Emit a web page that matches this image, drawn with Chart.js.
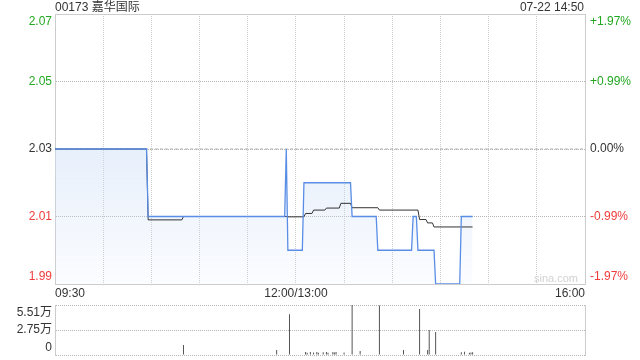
<!DOCTYPE html>
<html><head><meta charset="utf-8">
<script src="https://cdn.jsdelivr.net/npm/chart.js@4.4.0/dist/chart.umd.min.js"></script>
<style>
html,body{margin:0;padding:0;background:#fff;width:640px;height:360px;overflow:hidden;}
#wrap{position:relative;width:640px;height:360px;font-family:"Liberation Sans","Noto Sans CJK SC",sans-serif;}
#c1{position:absolute;left:0;top:0;width:640px;height:298px;}
#c2{position:absolute;left:0;top:298px;width:640px;height:62px;}
.t{position:absolute;font-size:12px;line-height:14px;color:#333;white-space:nowrap;}
</style></head><body>
<div id="wrap">
<canvas id="c1" width="640" height="298"></canvas>
<canvas id="c2" width="640" height="62"></canvas>
<div class="t" style="left:55px;top:0px">00173 嘉华国际</div>
<div class="t" style="right:56px;top:0px">07-22 14:50</div>
<div class="t" style="left:534px;top:271px;color:#d2d2d2;font-size:11px">sina.com</div>
</div>
<script>
// ---- data (minutes after 09:30, lunch break removed) ----
const prevClose = 2.03;
const priceMinutes = [0,57,58,143,144,145,154,155,184,185,200,201,222,223,225,226,236,237,252,253,260];
const priceValues  = [2.03,2.03,2.01,2.01,2.03,2.00,2.00,2.02,2.02,2.01,2.01,2.00,2.00,2.01,2.01,2.00,2.00,1.99,1.99,2.01,2.01];
const avgMinutes = [0,57,58,79,80,144,145,155,156,160,161,168,169,177,178,184,185,201,202,226,227,231,232,235,236,260];
const avgValues  = [2.03,2.03,2.009,2.009,2.01,2.01,2.0099,2.0099,2.0109,2.0109,2.0119,2.0119,2.0125,2.0125,2.0139,2.0139,2.0126,2.0126,2.0119,2.0119,2.0091,2.0091,2.0081,2.0081,2.0069,2.0069];
const volMinutes = [80,138,146,156,157,159,161,163,164,167,169,170,173,174,175,180,185,190,202,217,227,232,233,237,253,255,258,259,260];
const volValues  = [11000,5500,45000,3300,2500,3300,2800,3300,2500,3000,3300,2500,3300,2800,3300,2800,55100,4400,54500,5500,50700,5500,27500,25300,3000,3500,2500,2800,3000];
const priceTicks = [1.99,2.01,2.03,2.05,2.07];
const priceTickLabels = ['1.99','2.01','2.03','2.05','2.07'];
const pctTickLabels = ['-1.97%','-0.99%','0.00%','+0.99%','+1.97%'];
const xTickMinutes = [0,30,60,90,120,150,180,210,240,270,300,330];
const xTickLabels = ['09:30','','','','','12:00/13:00','','','','','','16:00'];
const volTicks = [0,27550,55100];
const volTickLabels = ['0','2.75万','5.51万'];

// ---- styles ----
const FONT = {family:'"Liberation Sans", Arial, "Noto Sans CJK SC", sans-serif', size:12};
const GREEN='#22a822', RED='#f03c3c', DARK='#333333';
const GRID='#cccccc', HGRID='#b4b4b4', BORDER='#cccccc', BLUE='#5a8ee6';
const tickColors = [RED,RED,DARK,GREEN,GREEN];
const edgeLabel = (arr)=>(v,i)=> i===0 ? [arr[i],''] : (i===arr.length-1 ? ['',arr[i]] : arr[i]);
const clear='rgba(0,0,0,0)';

function fillGrad(ctx){
  const ch = ctx.chart; const a = ch.chartArea;
  if(!a) return 'rgba(205,222,247,0.3)';
  const y = ch.scales.y;
  const g = ch.ctx.createLinearGradient(0, y.getPixelForValue(prevClose), 0, a.bottom);
  g.addColorStop(0,'rgba(205,222,247,0.48)');
  g.addColorStop(1,'rgba(205,222,247,0.08)');
  return g;
}

new Chart(document.getElementById('c1'), {
  type:'line',
  data:{datasets:[
    {data:priceMinutes.map((m,i)=>({x:m,y:priceValues[i]})), borderColor:BLUE, borderWidth:1.3, pointRadius:0, fill:'start', backgroundColor:fillGrad, tension:0},
    {data:avgMinutes.map((m,i)=>({x:m,y:avgValues[i]})), borderColor:'#333', borderWidth:1, pointRadius:0, fill:false, tension:0},
    {data:[{x:0,y:prevClose},{x:330,y:prevClose}], borderColor:'#b0b0b0', borderWidth:1, borderDash:[3,2], pointRadius:0, fill:false}
  ]},
  options:{
    responsive:false, animation:false, events:[],
    layout:{padding:{top:14,left:0,right:0,bottom:0}},
    plugins:{legend:{display:false}, tooltip:{enabled:false}, filler:{drawTime:'beforeDatasetsDraw'}},
    scales:{
      x:{type:'linear', position:'bottom', min:0, max:330,
        afterBuildTicks:s=>{s.ticks=xTickMinutes.map(v=>({value:v}));},
        ticks:{autoSkip:false, maxRotation:0, minRotation:0, align:'inner', padding:2, color:DARK, font:FONT, callback:(v,i)=>xTickLabels[i]},
        grid:{drawTicks:false, color:c=>(c.index===0||c.index===xTickMinutes.length-1)?clear:GRID},
        border:{color:BORDER, dash:[1,1]},
        afterFit:s=>{s.height=14; s.paddingLeft=0; s.paddingRight=0;}},
      x2:{type:'linear', position:'top', min:0, max:330,
        ticks:{display:false}, grid:{display:false, drawTicks:false}, border:{color:BORDER},
        afterFit:s=>{s.height=0; s.paddingLeft=0; s.paddingRight=0;}},
      y:{type:'linear', position:'left', min:1.99, max:2.07,
        afterBuildTicks:s=>{s.ticks=priceTicks.map(v=>({value:v}));},
        ticks:{autoSkip:false, padding:3, font:FONT, color:c=>tickColors[c.index], callback:edgeLabel(priceTickLabels)},
        grid:{drawTicks:false, lineWidth:1, color:HGRID},
        border:{color:BORDER, dash:[1,1]},
        afterFit:s=>{s.width=55; s.paddingTop=0; s.paddingBottom=0;}},
      y2:{type:'linear', position:'right', min:1.99, max:2.07,
        afterBuildTicks:s=>{s.ticks=priceTicks.map(v=>({value:v}));},
        ticks:{autoSkip:false, padding:5, font:FONT, color:c=>tickColors[c.index], callback:edgeLabel(pctTickLabels)},
        grid:{display:false, drawTicks:false}, border:{color:BORDER},
        afterFit:s=>{s.width=55; s.paddingTop=0; s.paddingBottom=0;}}
    }
  }
});

new Chart(document.getElementById('c2'), {
  type:'bar',
  data:{datasets:[{data:volMinutes.map((m,i)=>({x:m,y:volValues[i]})), backgroundColor:'#555', borderWidth:0, barThickness:1, inflateAmount:0}]},
  options:{
    responsive:false, animation:false, events:[],
    layout:{padding:{top:7,bottom:5,left:0,right:0}},
    plugins:{legend:{display:false}, tooltip:{enabled:false}},
    scales:{
      x:{type:'linear', min:0, max:330, display:false, offset:false, grid:{offset:false}},
      y:{type:'linear', position:'left', min:0, max:55100,
        afterBuildTicks:s=>{s.ticks=volTicks.map(v=>({value:v}));},
        ticks:{autoSkip:false, padding:3, font:FONT, color:DARK, callback:edgeLabel(volTickLabels)},
        grid:{drawTicks:false, lineWidth:1, color:HGRID},
        border:{color:BORDER, dash:[1,1]},
        afterFit:s=>{s.width=55; s.paddingTop=0; s.paddingBottom=0;}},
      y2:{type:'linear', position:'right', min:0, max:55100,
        ticks:{display:false}, grid:{display:false, drawTicks:false}, border:{color:BORDER},
        afterFit:s=>{s.width=55; s.paddingTop=0; s.paddingBottom=0;}}
    }
  }
});
</script>
</body></html>
